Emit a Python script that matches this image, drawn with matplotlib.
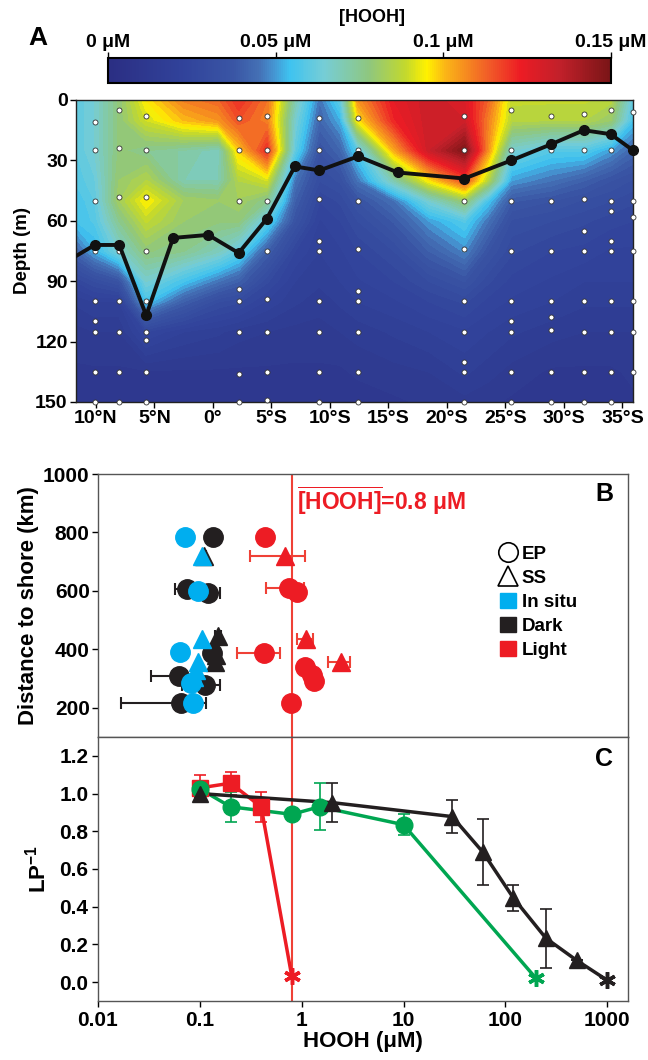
import numpy as np
import matplotlib
matplotlib.use("Agg")
import matplotlib.pyplot as plt
from matplotlib.colors import LinearSegmentedColormap, Normalize
from matplotlib.cm import ScalarMappable
from matplotlib.lines import Line2D
from matplotlib.patches import Patch

plt.rcParams.update({
    "font.family": ["Liberation Sans", "DejaVu Sans"],
    "font.weight": "bold", "axes.labelweight": "bold",
    "mathtext.fontset": "custom", "mathtext.rm": "Liberation Sans:bold",
    "mathtext.bf": "Liberation Sans:bold", "mathtext.it": "Liberation Sans:bold",
    "axes.linewidth": 1.0,
})

CYAN, BLACK, RED, GREEN = "#00aeef", "#231f20", "#ed1c24", "#00a651"

# ---------------- panel A: HOOH section (latitude, S positive) ----------------
grid_lat = [-11.7, -10.1, -8.0, -5.7, -2.5, 0.5, 2.2, 4.6, 7.0, 9.1, 10.9,
            12.4, 15.5, 18.5, 21.5, 23.5, 25.5, 28.9, 31.7, 34.0, 35.9]
grid_depth = [0, 10, 25, 40, 50, 60, 75, 90, 100, 115, 135, 150]
# HOOH in nM (x 0.001 uM); one row per depth
hooh_nM = [
    [60, 65, 78, 95, 108, 112, 120, 110, 70, 45, 60, 105, 125, 132, 127, 112, 88, 88, 88, 86, 60],
    [60, 65, 78, 90, 100, 105, 115, 108, 65, 42, 52, 95, 122, 132, 130, 108, 86, 85, 85, 80, 55],
    [60, 65, 78, 75, 72, 68, 98, 120, 60, 35, 42, 58, 102, 132, 148, 105, 65, 58, 58, 50, 42],
    [58, 62, 80, 85, 70, 70, 85, 90, 45, 30, 33, 45, 70, 95, 115, 85, 50, 45, 40, 35, 32],
    [55, 60, 82, 95, 82, 80, 82, 75, 40, 25, 28, 35, 45, 65, 80, 55, 38, 35, 32, 30, 28],
    [55, 58, 75, 88, 80, 78, 78, 60, 35, 22, 25, 30, 38, 50, 58, 45, 32, 30, 28, 26, 25],
    [42, 52, 65, 78, 75, 68, 60, 40, 25, 20, 22, 25, 30, 40, 48, 35, 28, 25, 24, 22, 22],
    [25, 30, 35, 65, 55, 45, 40, 28, 20, 18, 20, 22, 25, 30, 35, 28, 24, 22, 20, 20, 20],
    [18, 20, 20, 55, 40, 30, 28, 22, 18, 16, 18, 20, 22, 25, 28, 24, 22, 20, 18, 18, 18],
    [14, 15, 15, 25, 20, 18, 16, 15, 14, 14, 15, 16, 18, 20, 22, 20, 18, 16, 15, 15, 15],
    [12, 12, 12, 12, 12, 12, 12, 12, 12, 12, 12, 13, 14, 15, 18, 16, 14, 12, 12, 12, 13],
    [10, 10, 10, 10, 10, 11, 12, 12, 11, 10, 10, 11, 12, 13, 14, 13, 12, 11, 10, 11, 12],
]

mld_lat = [-11.7, -10.1, -8.0, -5.7, -3.4, -0.4, 2.2, 4.6, 7.0, 9.1, 12.4,
           15.8, 21.5, 25.5, 28.9, 31.7, 34.0, 35.9]
mld_depth = [77.5, 72, 72, 107, 68.5, 67, 76, 59, 33, 35, 28, 36, 39, 30, 22, 15, 17, 25]

sample_lat = [-10.1, -8.0, -5.7, 2.2, 4.6, 9.1, 12.4, 21.5, 25.5, 28.9, 31.7, 34.0, 35.9]
sample_depths = [
    [11, 25, 50, 75, 100, 110, 115, 135, 150],
    [5, 24, 48, 75, 100, 115, 135, 150],
    [8, 25, 48, 75, 100, 115, 119, 135, 150],
    [9, 25, 50, 94, 100, 115, 136, 150],
    [8, 25, 50, 75, 99, 115, 135, 149],
    [9, 25, 49, 70, 75, 100, 115, 135, 150],
    [9, 25, 50, 74, 95, 100, 115, 135, 150],
    [8, 25, 50, 74, 100, 115, 130, 135, 150],
    [5, 25, 50, 75, 100, 110, 115, 135, 150],
    [8, 25, 50, 75, 100, 108, 114, 135, 150],
    [7, 25, 49, 65, 75, 100, 115, 135, 150],
    [5, 25, 50, 55, 70, 75, 100, 115, 135, 150],
    [6, 50, 58, 75, 100, 115, 135],
]
lat_ticks = [-10, -5, 0, 5, 10, 15, 20, 25, 30, 35]
lat_labels = ["10°N", "5°N", "0°", "5°S", "10°S", "15°S", "20°S", "25°S", "30°S", "35°S"]

# ---------------- panel B: distance to shore vs HOOH ----------------
ep_insitu_x = [0.072, 0.095, 0.064, 0.082, 0.086]
ep_insitu_y = [784, 598, 392, 284, 216]
ep_dark_x = [0.136, 0.075, 0.12, 0.131, 0.062, 0.112, 0.066]
ep_dark_y = [784, 606, 594, 387, 309, 279, 216]
ep_dark_err = [0.006, 0.018, 0.037, 0.01, 0.029, 0.045, 0.049]
ep_light_x = [0.44, 0.745, 0.9, 0.423, 1.08, 1.26, 1.31, 0.79]
ep_light_y = [784, 609, 596, 387, 341, 313, 290, 216]
ep_light_err = [0.05, 0.3, 0.12, 0.19, 0.1, 0.08, 0.08, 0.0]
ss_insitu_x = [0.104, 0.104, 0.097, 0.092, 0.088]
ss_insitu_y = [721, 436, 358, 330, 307]
ss_dark_x = [0.11, 0.152, 0.145, 0.14]
ss_dark_y = [721, 444, 380, 355]
ss_dark_err = [0.004, 0.01, 0.01, 0.01]
ss_light_x = [0.69, 1.1, 2.41]
ss_light_y = [720, 437, 358]
ss_light_err = [0.38, 0.2, 0.58]
hooh_threshold = 0.8

# ---------------- panel C: LP^-1 vs HOOH ----------------
red_x = [0.1, 0.2, 0.4, 0.8]
red_y = [1.03, 1.055, 0.93, 0.03]
red_err = [0.07, 0.06, 0.08, 0.0]
green_x = [0.1, 0.2, 0.8, 1.5, 10, 200]
green_y = [1.025, 0.93, 0.89, 0.93, 0.835, 0.02]
green_err = [0.03, 0.08, 0.0, 0.125, 0.055, 0.0]
black_x = [0.1, 2, 30, 60, 120, 250, 500, 1000]
black_y = [1.0, 0.952, 0.878, 0.69, 0.446, 0.233, 0.116, 0.01]
black_err = [0.02, 0.104, 0.088, 0.175, 0.07, 0.157, 0.0, 0.0]
hooh_ticks = [0.01, 0.1, 1, 10, 100, 1000]
hooh_labels = ["0.01", "0.1", "1", "10", "100", "1000"]

W, H = 648, 1060


def box(l, t, r, b):
    return [l / W, 1 - b / H, (r - l) / W, (b - t) / H]


cmap = LinearSegmentedColormap.from_list("hooh", [
    (0.00, "#2b2e83"), (0.15, "#31439b"), (0.25, "#3a56a5"), (0.30, "#4470b5"),
    (0.33, "#4596d3"), (0.36, "#3ec3f0"), (0.43, "#76cdd6"), (0.52, "#8fc77e"),
    (0.59, "#c2d82e"), (0.635, "#fff100"), (0.67, "#fbb716"), (0.71, "#f68d1f"),
    (0.76, "#f15a28"), (0.82, "#ed1c24"), (0.90, "#c1202a"), (1.00, "#7a1517")])
norm = Normalize(0, 0.15)

fig = plt.figure(figsize=(W / 100, H / 100), dpi=100)

# ---- panel A ----
axA = fig.add_axes(box(76, 100, 633, 402))
Z = np.array(hooh_nM) / 1000.0
cs = axA.contourf(grid_lat, grid_depth, Z, levels=np.linspace(0, 0.15, 61),
                  cmap=cmap, norm=norm, extend="both")
cs.set_edgecolor("face")
cs.set_linewidth(0.6)
for lat, deps in zip(sample_lat, sample_depths):
    axA.plot([lat] * len(deps), deps, "o", ms=3.6, mfc="white", mec="#333333",
             mew=0.6, zorder=3, clip_on=False)
axA.plot(mld_lat, mld_depth, "-", color="#111111", lw=2.8, zorder=4)
axA.plot(mld_lat[1:], mld_depth[1:], "o", color="#111111", ms=7, zorder=5, clip_on=False)
axA.set_xlim(-11.7, 35.9)
axA.set_ylim(150, 0)
axA.set_yticks([0, 30, 60, 90, 120, 150])
axA.set_xticks(lat_ticks)
axA.set_xticklabels(lat_labels)
axA.tick_params(labelsize=14, length=4, width=1, pad=2)
axA.set_ylabel("Depth (m)", fontsize=13.5, labelpad=3)
for s in axA.spines.values():
    s.set_color("#222222")

cax = fig.add_axes(box(108, 58, 611, 83))
cb = fig.colorbar(ScalarMappable(norm=norm, cmap=cmap), cax=cax, orientation="horizontal")
cb.set_ticks([0, 0.05, 0.1, 0.15])
cb.set_ticklabels(["0 μM", "0.05 μM", "0.1 μM", "0.15 μM"])
cax.xaxis.set_ticks_position("top")
cax.tick_params(labelsize=14, length=4, width=1, pad=1)
cb.outline.set_linewidth(1.5)
fig.text(372 / W, 1 - 18 / H, "[HOOH]", ha="center", va="center", fontsize=13)
fig.text(38 / W, 1 - 38 / H, "A", ha="center", va="center", fontsize=19)

# ---- panel B ----
axB = fig.add_axes(box(98, 474, 628, 737))
eb = dict(elinewidth=1.5, capsize=4, capthick=1.5, linestyle="none")
axB.axvline(hooh_threshold, color="#ef4136", lw=1.5, zorder=1)
axB.errorbar(ep_dark_x, ep_dark_y, xerr=ep_dark_err, fmt="o", ms=14, color=BLACK, **eb)
axB.errorbar(ss_dark_x, ss_dark_y, xerr=ss_dark_err, fmt="^", ms=13, color=BLACK, **eb)
axB.errorbar(ep_insitu_x, ep_insitu_y, fmt="o", ms=14, color=CYAN, **eb)
axB.errorbar(ss_insitu_x, ss_insitu_y, fmt="^", ms=13, color=CYAN, **eb)
axB.errorbar(ep_light_x, ep_light_y, xerr=ep_light_err, fmt="o", ms=14, color=RED,
             ecolor="#ef4136", **eb)
axB.errorbar(ss_light_x, ss_light_y, xerr=ss_light_err, fmt="^", ms=13, color=RED,
             ecolor="#ef4136", **eb)
axB.set_xscale("log")
axB.set_xlim(0.01, 1600)
axB.set_ylim(100, 1000)
axB.set_yticks([200, 400, 600, 800, 1000])
axB.tick_params(axis="x", which="both", bottom=False, labelbottom=False)
axB.tick_params(axis="y", labelsize=15, length=4, width=1, pad=2)
axB.set_ylabel("Distance to shore (km)", fontsize=16, labelpad=3)
axB.text(0.376, 0.90, r"$\overline{\mathbf{[HOOH]}}$=0.8 μM",
         transform=axB.transAxes, color=RED, fontsize=16.5, va="center")
axB.text(0.955, 0.925, "B", transform=axB.transAxes, fontsize=18, ha="center", va="center")
handles = [
    Line2D([], [], marker="o", ls="none", mfc="none", mec="black", ms=14, mew=1.2, label="EP"),
    Line2D([], [], marker="^", ls="none", mfc="none", mec="black", ms=14, mew=1.2, label="SS"),
    Patch(color=CYAN, label="In situ"), Patch(color=BLACK, label="Dark"),
    Patch(color=RED, label="Light"),
]
axB.legend(handles=handles, loc="upper left", bbox_to_anchor=(0.745, 0.76), frameon=False,
           fontsize=13.5, handlelength=0.85, handleheight=0.85, handletextpad=0.3,
           labelspacing=0.33, borderaxespad=0)

# ---- panel C ----
axC = fig.add_axes(box(98, 737, 628, 1001))
axC.axvline(hooh_threshold, color="#ef4136", lw=1.5, zorder=1)
ebc = dict(elinewidth=1.2, capsize=4, capthick=1.2, linestyle="none")
for xs, ys, es, col, mk in [(red_x, red_y, red_err, RED, "s"),
                            (green_x, green_y, green_err, GREEN, "o"),
                            (black_x, black_y, black_err, BLACK, "^")]:
    axC.plot(xs, ys, "-", color=col, lw=2.5)
    axC.errorbar(xs[:-1], ys[:-1], yerr=es[:-1], fmt=mk, ms=12, color=col, **ebc)
    axC.plot(xs[-1], ys[-1], marker=(6, 2, 0), ms=12, mew=2.5, color=col, ls="none")
axC.set_xscale("log")
axC.set_xlim(0.01, 1600)
axC.set_ylim(-0.1, 1.3)
axC.set_xticks(hooh_ticks)
axC.set_xticklabels(hooh_labels)
axC.minorticks_off()
axC.set_yticks(np.arange(0, 1.21, 0.2))
axC.set_yticklabels([f"{v:.1f}" for v in np.arange(0, 1.21, 0.2)])
axC.tick_params(labelsize=15, length=4, width=1, pad=3)
axC.set_xlabel("HOOH (μM)", fontsize=16, labelpad=1)
axC.set_ylabel(r"LP$^{\mathbf{-1}}$", fontsize=16, labelpad=6)
axC.text(0.955, 0.915, "C", transform=axC.transAxes, fontsize=18, ha="center", va="center")

for ax in (axB, axC):
    for s in ax.spines.values():
        s.set_color("#555555")

fig.savefig("out.png", dpi=100)
